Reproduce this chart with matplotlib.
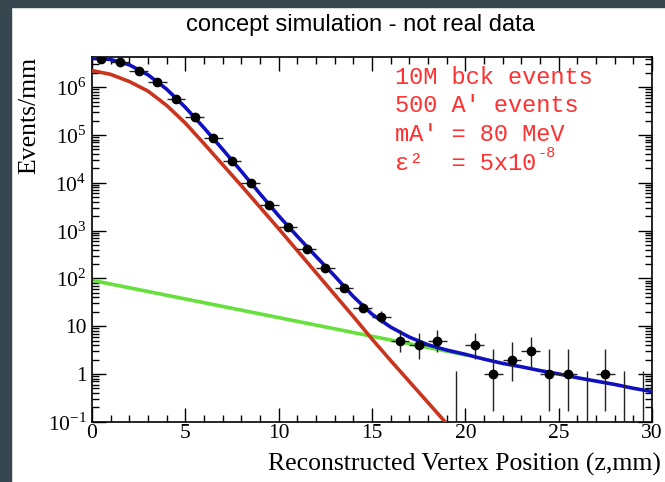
import numpy as np
import matplotlib.pyplot as plt
from matplotlib.patches import Rectangle
from matplotlib.ticker import FixedLocator, FixedFormatter, NullFormatter, LogLocator

plt.rcParams['mathtext.fontset'] = 'custom'
plt.rcParams['mathtext.rm'] = 'Liberation Serif'

# histogram: bin centres (mm), counts per mm and Poisson errors
z_bins = np.arange(0.5, 30, 1.0)
counts = np.array([4.0e6, 3.3e6, 2.2e6, 1.27e6, 5.8e5, 2.35e5, 8.5e4, 2.9e4,
                   9.8e3, 3.4e3, 1.2e3, 420, 168, 62, 24.5,
                   15.5, 5, 4, 5, 0, 4, 1, 2, 3, 1, 1, 0, 1, 0, 0])
err_lo = np.array([0, 0, 0, 0, 0, 0, 0, 0, 0, 0, 0, 0, 0, 0, 4.9,
                   3.8, 2.16, 1.91, 2.16, 0, 1.91, 0.83, 1.29, 1.63, 0.83, 0.83, 0, 0.83, 0, 0])
err_hi = np.array([0, 0, 0, 0, 0, 0, 0, 0, 0, 0, 0, 0, 0, 0, 5.9,
                   4.9, 3.38, 3.16, 3.38, 1.15, 3.16, 2.30, 2.64, 2.92, 2.30, 2.30, 1.15, 2.30, 1.15, 1.15])

# fitted curves, log10 of events/mm at integer z
curve_z = np.arange(0, 31)
total_log = [6.62, 6.58, 6.47, 6.26, 5.96, 5.58, 5.15, 4.70, 4.24, 3.77, 3.31,
             2.88, 2.46, 2.05, 1.62, 1.25, 0.98, 0.77, 0.61, 0.50, 0.41,
             0.31, 0.22, 0.15, 0.07, 0.0, -0.08, -0.15, -0.22, -0.30, -0.37]
bkg_z = np.arange(0, 20)
bkg_log = [6.35, 6.27, 6.12, 5.92, 5.62, 5.25, 4.82, 4.38, 3.94, 3.49, 3.04,
           2.58, 2.12, 1.66, 1.20, 0.73, 0.28, -0.16, -0.60, -1.04]
sig_z = [0, 20]
sig_vals = [91, 2.5]

info_lines = ['10M bck events', '500 A\u2032 events', 'mA\u2032 = 80 MeV',
              '\u03b5\u00b2  = 5x10']
eps_exp = '-8'
y_ticks = [0.1, 1, 10, 1e2, 1e3, 1e4, 1e5, 1e6]
y_labels = ['$10^{-1}$', '1', '10', '$10^{2}$', '$10^{3}$', '$10^{4}$', '$10^{5}$', '$10^{6}$']

fig = plt.figure(figsize=(6.65, 4.82), dpi=100)
fig.patches.append(Rectangle((0, 0), 11 / 665, 1, transform=fig.transFigure,
                             color='#37474f', zorder=-5))
fig.patches.append(Rectangle((0, 1 - 7 / 482), 1, 7 / 482, transform=fig.transFigure,
                             color='#37474f', zorder=-5))

ax = fig.add_axes([92 / 665, 1 - 421.7 / 482, 560 / 665, 364.7 / 482])
ax.set_yscale('log')
ax.set_xlim(0, 30)
ax.set_ylim(0.1, 4.3e6)

ax.plot(sig_z, sig_vals, color='#66e03c', lw=2.6, zorder=2)
ax.plot(bkg_z, 10 ** np.array(bkg_log), color='#c9351f', lw=2.6, zorder=3)
ax.plot(curve_z, 10 ** np.array(total_log), color='#1010c0', lw=2.6, zorder=4)

# data points
has = counts > 0
ax.errorbar(z_bins[has], counts[has], xerr=0.5,
            yerr=[err_lo[has], err_hi[has]], fmt='o', color='black',
            ecolor='#222222', elinewidth=1, ms=6, capsize=0, zorder=5)
ax.vlines(z_bins[~has], 0.05, err_hi[~has], color='#222222', lw=1, zorder=5)

ax.xaxis.set_major_locator(FixedLocator([0, 5, 10, 15, 20, 25, 30]))
ax.xaxis.set_minor_locator(FixedLocator(np.arange(0, 31, 1)))
ax.yaxis.set_major_locator(FixedLocator(y_ticks))
ax.yaxis.set_major_formatter(FixedFormatter(y_labels))
ax.yaxis.set_minor_locator(LogLocator(base=10, subs=np.arange(2, 10)))
ax.yaxis.set_minor_formatter(NullFormatter())
ax.tick_params(which='both', direction='in', top=True, right=True,
               labelsize=15.5, labelfontfamily='Liberation Serif', width=1)
ax.tick_params(which='major', length=10, pad=4)
ax.tick_params(which='minor', length=5)
ax.tick_params(axis='x', pad=2)
for s in ax.spines.values():
    s.set_linewidth(1.2)

ax.set_xlabel('Reconstructed Vertex Position (z,mm)', fontsize=18.5,
              family='Liberation Serif', ha='right', va='center')
ax.xaxis.set_label_coords((661 - 92) / 560, (421.7 - 464) / 364.7)
ax.set_ylabel('Events/mm', fontsize=18.5, family='Liberation Serif', va='center')
ax.yaxis.set_label_coords((29 - 92) / 560, (421.7 - 115) / 364.7)

red_font = dict(color='#ff3030', fontsize=17, family=['Liberation Mono', 'DejaVu Sans Mono'])
last = None
for i, line in enumerate(info_lines):
    last = fig.text(395 / 665, 1 - (77 + 28.7 * i) / 482, line,
                    ha='left', va='center', **red_font)
fig.canvas.draw()
ax.annotate(eps_exp, xy=(1.0, 0.62), xycoords=last, xytext=(1, 0),
            textcoords='offset points', ha='left', va='bottom',
            color='#ff3030', fontsize=11, family='Liberation Mono')

fig.text(360 / 665, 1 - 25 / 482, 'concept simulation - not real data',
         fontsize=17, family='Liberation Sans', ha='center', va='center')

fig.savefig('out.png', dpi=100)
